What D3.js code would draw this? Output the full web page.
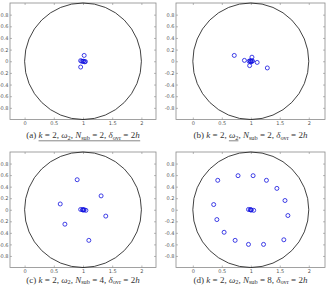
<!DOCTYPE html>
<html>
<head>
<meta charset="utf-8">
<script src="https://cdn.jsdelivr.net/npm/d3@7"></script>
<style>
  body { margin: 0; background: #fff; }
  svg { display: block; }
</style>
</head>
<body>
<div id="chart"></div>
<script>
// ticks
var xTicks = [0, 0.5, 1, 1.5, 2];
var yTicks = [-0.8, -0.6, -0.4, -0.2, 0, 0.2, 0.4, 0.6, 0.8];

// eigenvalue locations
var pointsA = [[1.02, 0.10], [0.96, -0.10], [0.96, 0.01], [0.98, 0.0], [1.0, 0.0],
               [1.01, 0.0], [1.03, -0.01], [1.04, -0.005]];
var pointsB = [[0.715, 0.10], [0.89, 0.015], [1.02, 0.07], [1.11, -0.02], [0.98, -0.075],
               [1.285, -0.115], [0.97, 0.0], [0.99, 0.01], [1.0, -0.01], [1.02, 0.0],
               [1.0, 0.0], [1.03, 0.005]];
var pointsC = [[0.90, 0.52], [1.31, 0.24], [0.61, 0.10], [1.39, -0.11], [0.69, -0.25],
               [1.10, -0.53], [0.96, 0.005], [0.99, 0.0], [1.0, 0.0], [1.01, -0.005],
               [1.02, 0.0], [1.05, -0.01]];
var pointsD = [[0.43, 0.51], [0.78, 0.59], [1.04, 0.59], [1.27, 0.51], [1.45, 0.37],
               [1.59, 0.16], [1.64, -0.10], [1.57, -0.52], [1.22, -0.60], [0.96, -0.60],
               [0.73, -0.53], [0.54, -0.39], [0.415, -0.17], [0.36, 0.09],
               [0.96, 0.005], [0.99, 0.0], [1.0, 0.0], [1.01, -0.005], [1.05, -0.01]];

var labels = ["(a)", "(b)", "(c)", "(d)"];
var nSub = ["2", "2", "4", "8"];

var W = 328, H = 288;
var svg = d3.select("#chart").append("svg")
  .attr("width", W).attr("height", H);

var panels = [
  {pts: pointsA, x0: 10, x1: 156, y0: 3, y1: 119.5, xd: [-0.25, 2.25], cap: 138, ul: "all"},
  {pts: pointsB, x0: 176, x1: 325, y0: 3, y1: 119.5, xd: [-0.29, 2.28], cap: 138, ul: "omega"},
  {pts: pointsC, x0: 10, x1: 156, y0: 152, y1: 267.5, xd: [-0.25, 2.25], cap: 282.5, ul: null},
  {pts: pointsD, x0: 176, x1: 325, y0: 152, y1: 267.5, xd: [-0.29, 2.28], cap: 282.5, ul: null}
];

panels.forEach(function(p, i) {
  var x = d3.scaleLinear().domain(p.xd).range([p.x0, p.x1]);
  var y = d3.scaleLinear().domain([-1, 1]).range([p.y1, p.y0]);
  var g = svg.append("g");

  // box
  g.append("rect")
    .attr("x", p.x0).attr("y", p.y0)
    .attr("width", p.x1 - p.x0).attr("height", p.y1 - p.y0)
    .attr("fill", "none").attr("stroke", "#8a8a8a").attr("stroke-width", 0.8);

  var fmt = function(d) { return String(d); };

  var gb = g.append("g").attr("transform", "translate(0," + p.y1 + ")")
    .call(d3.axisBottom(x).tickValues(xTicks).tickSize(-2).tickSizeOuter(0).tickPadding(2).tickFormat(fmt));
  var gt = g.append("g").attr("transform", "translate(0," + p.y0 + ")")
    .call(d3.axisTop(x).tickValues(xTicks).tickSize(-2).tickSizeOuter(0).tickFormat(""));
  var gl = g.append("g").attr("transform", "translate(" + p.x0 + ",0)")
    .call(d3.axisLeft(y).tickValues(yTicks).tickSize(-2).tickSizeOuter(0).tickPadding(1.5).tickFormat(fmt));
  var gr = g.append("g").attr("transform", "translate(" + p.x1 + ",0)")
    .call(d3.axisRight(y).tickValues(yTicks).tickSize(-2).tickSizeOuter(0).tickFormat(""));

  [gb, gt, gl, gr].forEach(function(a) {
    a.select(".domain").remove();
    a.selectAll(".tick line").attr("stroke", "#8a8a8a").attr("stroke-width", 0.6);
    a.selectAll(".tick text").attr("fill", "#555").style("font-size", "5px")
      .style("font-family", "DejaVu Sans, sans-serif");
  });

  // unit circle centred at (1,0)
  var cx = x(1), cy = y(0);
  g.append("ellipse")
    .attr("cx", cx).attr("cy", cy)
    .attr("rx", x(2) - x(1)).attr("ry", y(0) - y(1))
    .attr("fill", "none").attr("stroke", "#111").attr("stroke-width", 0.8);

  // eigenvalues
  g.append("g").selectAll("circle")
    .data(p.pts)
    .enter()
    .append("circle")
      .attr("cx", function(d) { return x(d[0]); })
      .attr("cy", function(d) { return y(d[1]); })
      .attr("r", 2)
      .attr("fill", "none")
      .attr("stroke", "#1010e0")
      .attr("stroke-width", 0.8);

  // caption
  var t = g.append("text")
    .attr("x", (p.x0 + p.x1) / 2)
    .attr("y", p.cap)
    .attr("text-anchor", "middle")
    .attr("fill", "#333")
    .style("font-family", "Liberation Serif, DejaVu Serif, serif")
    .style("font-size", "9px");

  t.append("tspan").text(labels[i] + " ");
  var first = t.append("tspan").style("font-style", "italic").text("k");
  t.append("tspan").text(" = 2, ");
  var om = t.append("tspan").style("font-style", "italic").text("ω");
  var om2 = t.append("tspan").attr("dy", 1.5).style("font-size", "6.3px").text("2");
  t.append("tspan").attr("dy", -1.5).text(", ");
  t.append("tspan").style("font-style", "italic").text("N");
  t.append("tspan").attr("dy", 1.5).style("font-size", "6.3px").text("sub");
  t.append("tspan").attr("dy", -1.5).text(" = " + nSub[i] + ", ");
  t.append("tspan").style("font-style", "italic").text("δ");
  t.append("tspan").attr("dy", 1.5).style("font-size", "6.3px").text("ovr");
  t.append("tspan").attr("dy", -1.5).text(" = 2");
  var last = t.append("tspan").style("font-style", "italic").text("h");

  var uy = p.cap + 2.8;
  if (p.ul === "all") {
    var b1 = first.node().getBBox(), b2 = last.node().getBBox();
    g.append("line").attr("x1", b1.x).attr("x2", b2.x + b2.width)
      .attr("y1", uy).attr("y2", uy).attr("stroke", "#333").attr("stroke-width", 0.6);
  } else if (p.ul === "omega") {
    var c1 = om.node().getBBox(), c2 = om2.node().getBBox();
    g.append("line").attr("x1", c1.x).attr("x2", c2.x + c2.width)
      .attr("y1", uy).attr("y2", uy).attr("stroke", "#333").attr("stroke-width", 0.6);
  }
});
</script>
</body>
</html>
